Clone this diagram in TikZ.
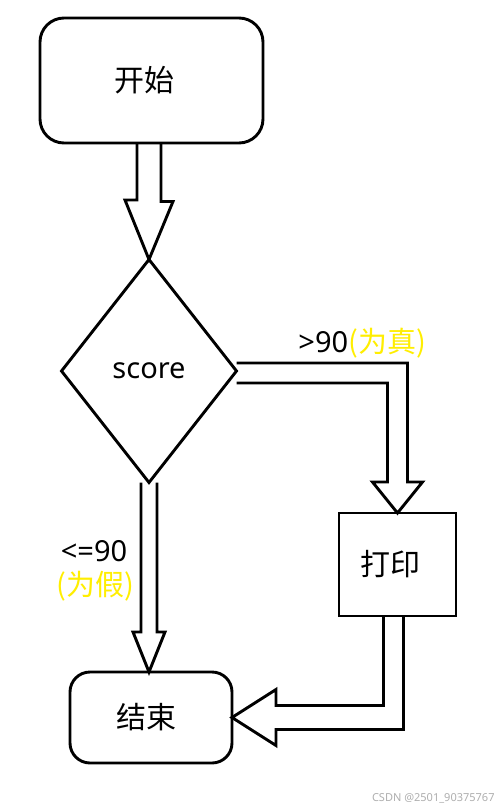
\documentclass[tikz,border=0pt]{standalone}
\usepackage{fontspec}
\setmainfont{Noto Sans}
\newfontfamily\cjk{Noto Sans CJK SC}
\usetikzlibrary{shapes.geometric,calc}
\definecolor{lblyellow}{RGB}{255,238,0}
\definecolor{wmgrey}{RGB}{175,175,175}
\begin{document}
\begin{tikzpicture}[x=1pt,y=-1pt,line width=2.9pt,
  box/.style={draw, outer sep=0pt, inner sep=0pt, font=\fontsize{30}{34}\selectfont\cjk},
  term/.style={box, rounded corners=24pt},
  decision/.style={draw, diamond, outer sep=0pt, inner sep=0pt, font=\fontsize{29}{32}\selectfont},
  blk/.style={draw, line join=miter},
  lbl/.style={inner sep=0pt, font=\fontsize{29}{34}\selectfont},
  wm/.style={inner sep=0pt, text=wmgrey, font=\fontsize{11}{13}\selectfont}]
\useasboundingbox[fill=white] (0,0) rectangle (500,809);

\node[term, minimum width=223pt, minimum height=125pt] (start) at (151.5,80.5) {开始\hspace*{14pt}};
\node[decision, minimum width=175pt, minimum height=223pt] (dec) at (149,371) {score};
\node[box, minimum width=117pt, minimum height=103pt] (print) at (397.5,564.5) {打印\hspace*{14pt}};
\node[term, rounded corners=20pt, minimum width=162pt, minimum height=91pt] (end) at (151,717.5) {结束\hspace*{10pt}};

% start -> decision
\draw[blk] ($(start.south -| dec.north)+(-12,0)$) -- ++(0,57) -- ++(-12,0) -- (dec.north)
  -- ++(24,-58) -- ++(-12,0) -- ($(start.south -| dec.north)+(12,0)$);

% decision -> print (true)
\draw[blk] ($(dec.east)+(0,-8)$) -| ($(print.north)+(10,-31)$) -- ++(15,0) -- (print.north)
  -- ++(-25,-31) -- ++(15,0) |- ($(dec.east)+(0,12)$);

% decision -> end (false)
\draw[blk] ($(dec.south)+(-8,0)$) -- ($(dec.south |- end.north)+(-8,-40)$) -- ++(-8,0)
  -- (dec.south |- end.north) -- ++(16,-40) -- ++(-8,0) -- ($(dec.south)+(8,0)$);

% print -> end
\draw[blk] ($(print.south)+(-14,0)$) |- ($(end.east)+(44,-12)$) -- ++(0,-16) -- (end.east)
  -- ++(44,28) -- ++(0,-16) -| ($(print.south)+(6,0)$);

\node[lbl, anchor=base west] (ltrue) at (297,352) {>90\textcolor{lblyellow}{\cjk(为真)}};
\node[lbl, anchor=base] (lfalse1) at (94,561) {<=90};
\node[lbl, anchor=base, text=lblyellow] (lfalse2) at (95,595) {\cjk(为假)};

\node[wm, anchor=base east] (mark) at (496,801) {CSDN @2501\_90375767};
\end{tikzpicture}
\end{document}
